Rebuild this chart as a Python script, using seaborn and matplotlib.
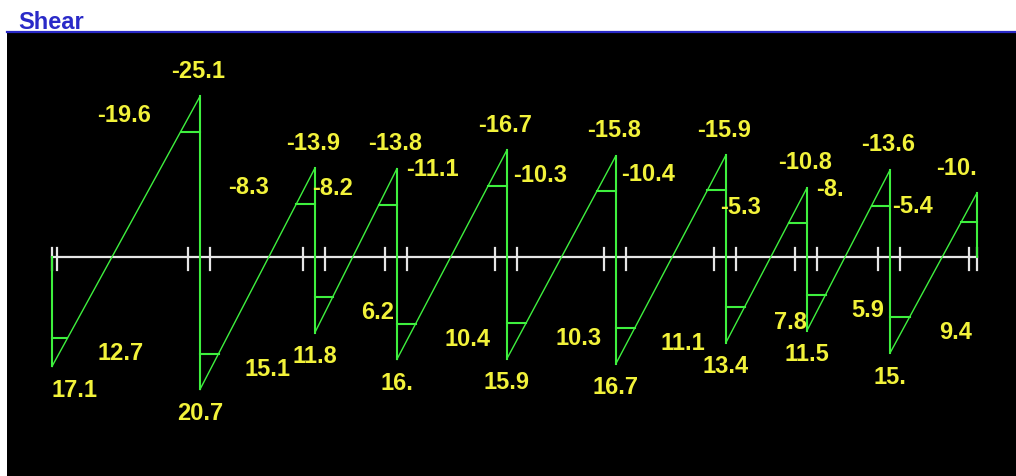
import numpy as np
import pandas as pd
import matplotlib
matplotlib.use("Agg")
import matplotlib.pyplot as plt
import seaborn as sns

# Span lengths between supports (m)
span_lengths = [5.38, 4.18, 2.98, 4.00, 3.96, 4.00, 2.95, 3.02, 3.16]

# Shear per span: value at each support and at each support face
v_left_end = [17.1, 20.7, 11.8, 16.0, 15.9, 16.7, 13.4, 11.5, 15.0]
v_left_face = [12.7, 15.1, 6.2, 10.4, 10.3, 11.1, 7.8, 5.9, 9.4]
v_right_face = [-19.6, -8.3, -8.2, -11.1, -10.3, -10.4, -5.3, -8.0, -5.4]
v_right_end = [-25.1, -13.9, -13.8, -16.7, -15.8, -15.9, -10.8, -13.6, -10.0]

# Label placement along the beam (m) for the face values
left_face_label_x = [2.51, 7.82, 11.85, 15.09, 19.13, 22.95, 26.84, 29.67, 32.84]
right_face_label_x = [2.62, 7.13, 10.20, 13.82, 17.75, 21.67, 25.02, 28.29, 31.27]

# Column face marks on the beam line
end_col_faces = [0.0, 0.18]
last_col_faces = [-0.29, 0.0]
col_half_width = 0.4

GREEN = "#3ef03e"
YELLOW = "#f2f23a"
WHITE = "#e6e6e6"
BLUE = "#2a2ac8"
FONT = ["Liberation Sans", "DejaVu Sans"]

supports = np.concatenate([[0.0], np.cumsum(span_lengths)])


def fmt(v):
    return f"{v:.1f}".rstrip("0")


# Shear diagram polylines
diag_rows, stiff_rows = [], []
seg = 0
for i, L in enumerate(span_lengths):
    xl, xr = supports[i], supports[i + 1]
    a, b = v_left_end[i], v_right_end[i]
    diag_rows += [(xl, a, seg), (xr, b, seg)]
    seg += 1
    xf = xl + (a - v_left_face[i]) / (a - b) * L
    stiff_rows += [(xl, v_left_face[i], seg), (xf, v_left_face[i], seg)]
    seg += 1
    xg = xl + (a - v_right_face[i]) / (a - b) * L
    stiff_rows += [(xg, v_right_face[i], seg), (xr, v_right_face[i], seg)]
    seg += 1

for j, xs in enumerate(supports):
    top = 0.0 if j == 0 else v_right_end[j - 1]
    bot = 0.0 if j == len(supports) - 1 else v_left_end[j]
    stiff_rows += [(xs, top, seg), (xs, bot, seg)]
    seg += 1

diag = pd.DataFrame(diag_rows, columns=["x", "v", "seg"])
stiff = pd.DataFrame(stiff_rows, columns=["x", "v", "seg"])

# Beam line and column face ticks
tick_x = list(end_col_faces)
for xs in supports[1:-1]:
    tick_x += [xs - col_half_width - 0.04, xs + col_half_width - 0.04]
tick_x += [supports[-1] + d for d in last_col_faces]
beam_rows = [(0.0, 0.0, 0), (supports[-1], 0.0, 0)]
for k, tx in enumerate(tick_x):
    beam_rows += [(tx, -1.4, k + 1), (tx, 2.0, k + 1)]
beam = pd.DataFrame(beam_rows, columns=["x", "v", "seg"])

fig = plt.figure(figsize=(10.16, 4.76), dpi=100, facecolor="white")
ax = fig.add_axes([7 / 1016, 0, 1009 / 1016, 444 / 476])
ax.set_facecolor("black")

sns.lineplot(data=beam, x="x", y="v", units="seg", estimator=None, sort=False,
             color=WHITE, lw=1.6, ax=ax)
sns.lineplot(data=diag, x="x", y="v", units="seg", estimator=None, sort=False,
             color=GREEN, lw=1.0, ax=ax)
sns.lineplot(data=stiff, x="x", y="v", units="seg", estimator=None, sort=False,
             color=GREEN, lw=1.5, ax=ax)

ax.set_xlim(-1.636, 35.05)
ax.set_ylim(34.22, -35.16)
ax.set_xlabel("")
ax.set_ylabel("")
ax.set_xticks([])
ax.set_yticks([])
for side in ["left", "right", "bottom"]:
    ax.spines[side].set_visible(False)
ax.spines["top"].set_color(BLUE)
ax.spines["top"].set_linewidth(1.6)

txt = dict(color=YELLOW, fontsize=17, fontweight="bold", family=FONT,
           textcoords="offset points", va="center")
px = 0.72  # points per pixel
n = len(span_lengths)
for i in range(n):
    ax.annotate(fmt(v_left_end[i]), (supports[i], v_left_end[i]),
                xytext=(0, -24 * px), ha="left" if i == 0 else "center", **txt)
    ax.annotate(fmt(v_right_end[i]), (supports[i + 1], v_right_end[i]),
                xytext=(0 if i == n - 1 else -2 * px, 25 * px),
                ha="right" if i == n - 1 else "center", **txt)
    ax.annotate(fmt(v_left_face[i]), (left_face_label_x[i], v_left_face[i]),
                xytext=(0, -15.5 * px), ha="center", **txt)
    ax.annotate(fmt(v_right_face[i]), (right_face_label_x[i], v_right_face[i]),
                xytext=(0, 16 * px), ha="center", **txt)

fig.text(18 / 1016, 1 - 29 / 476, "Shear", color=BLUE, fontsize=17,
         fontweight="bold", family=FONT, ha="left", va="baseline")

fig.savefig("out.png", dpi=100, facecolor=fig.get_facecolor())
